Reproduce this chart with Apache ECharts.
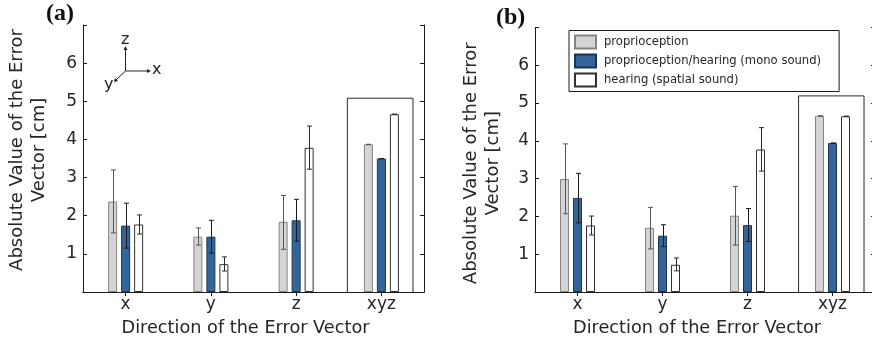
<!DOCTYPE html>
<html><head><meta charset="utf-8">
<script src="https://cdn.jsdelivr.net/npm/echarts@6/dist/echarts.min.js"></script>
<style>html,body{margin:0;padding:0;background:#fff}#c{width:872px;height:344px}</style>
</head><body><div id="c"></div>
<script>
// ---- data ----
const categories = ['x', 'y', 'z', 'xyz'];
const seriesNames = ['proprioception', 'proprioception/hearing (mono sound)', 'hearing (spatial sound)'];
const yTicks = [1, 2, 3, 4, 5, 6];
const panelTitles = ['(a)', '(b)'];
const xAxisName = 'Direction of the Error Vector';
const yAxisName = 'Absolute Value of the Error\nVector [cm]';

// panel (a)
const aProp   = [2.37, 1.45, 1.84, 3.87];
const aPropLo = [1.55, 1.23, 1.12, 3.87];
const aPropHi = [3.20, 1.68, 2.53, 3.87];
const aMono   = [1.74, 1.45, 1.88, 3.50];
const aMonoLo = [1.15, 1.02, 1.33, 3.50];
const aMonoHi = [2.33, 1.88, 2.43, 3.50];
const aSpat   = [1.77, 0.73, 3.78, 4.66];
const aSpatLo = [1.52, 0.55, 3.22, 4.66];
const aSpatHi = [2.02, 0.92, 4.35, 4.66];
const aBoxTop = 5.08;

// panel (b)
const bProp   = [2.99, 1.70, 2.02, 4.66];
const bPropLo = [2.07, 1.14, 1.24, 4.66];
const bPropHi = [3.92, 2.24, 2.79, 4.66];
const bMono   = [2.49, 1.49, 1.77, 3.94];
const bMonoLo = [1.83, 1.20, 1.34, 3.94];
const bMonoHi = [3.14, 1.78, 2.21, 3.94];
const bSpat   = [1.76, 0.72, 3.77, 4.65];
const bSpatLo = [1.51, 0.56, 3.20, 4.65];
const bSpatHi = [2.01, 0.90, 4.35, 4.65];
const bBoxTop = 5.19;

// ---- styles ----
const FONT = 'DejaVu Sans';
const TXT = '#262626';
const BAR_W = 9, BAR_GAP = 4, CAP = 5;
const barStyles = [
  { color: '#d3d4d3', borderColor: '#858585', borderWidth: 1 },
  { color: '#346599', borderColor: '#1d3552', borderWidth: 1 },
  { color: '#ffffff', borderColor: '#303030', borderWidth: 1 }
];
const errColors = ['#555555', '#1a1a1a', '#2a2a2a'];

const grids = [
  { left: 83, top: 25, width: 341, height: 267, outerBoundsMode: 'none', containLabel: false },
  { left: 535, top: 27.5, width: 340, height: 264.5, outerBoundsMode: 'none', containLabel: false }
];

function errRender(offset, color) {
  return function (params, api) {
    const c = api.value(0);
    const lo = api.coord([c, api.value(1)]);
    const hi = api.coord([c, api.value(2)]);
    const x = Math.round(lo[0] + offset) + 0.5;
    const st = { stroke: color, lineWidth: 1 };
    return { type: 'group', children: [
      { type: 'line', shape: { x1: x, y1: hi[1], x2: x, y2: lo[1] }, style: st },
      { type: 'line', shape: { x1: x - CAP / 2, y1: hi[1], x2: x + CAP / 2, y2: hi[1] }, style: st },
      { type: 'line', shape: { x1: x - CAP / 2, y1: lo[1], x2: x + CAP / 2, y2: lo[1] }, style: st }
    ] };
  };
}
function boxRender(params, api) {
  const top = api.coord([api.value(0), api.value(1)]);
  const base = api.coord([api.value(0), 0]);
  const band = api.size([1, 0])[0];
  const hw = band * 0.385;
  const cx = top[0] - 1.2;
  return { type: 'polyline', shape: { points: [[cx - hw, base[1]], [cx - hw, top[1]], [cx + hw, top[1]], [cx + hw, base[1]]] },
    style: { stroke: '#2a2a2a', fill: null, lineWidth: 1 } };
}

const xAxes = [], yAxes = [], series = [];
const panels = [
  { vals: [aProp, aMono, aSpat], lo: [aPropLo, aMonoLo, aSpatLo], hi: [aPropHi, aMonoHi, aSpatHi], box: aBoxTop, nameGap: 33, namePad: [0, 0, 0, 17] },
  { vals: [bProp, bMono, bSpat], lo: [bPropLo, bMonoLo, bSpatLo], hi: [bPropHi, bMonoHi, bSpatHi], box: bBoxTop, nameGap: 31, namePad: [0, 7, 0, 0] }
];
panels.forEach((p, g) => {
  const axisLine = { show: true, lineStyle: { color: '#1a1a1a', width: 1 } };
  const tick = { show: true, inside: true, length: 4, lineStyle: { color: '#1a1a1a' } };
  xAxes.push({ type: 'category', gridIndex: g, data: categories, position: 'bottom',
    axisLine, axisTick: Object.assign({ alignWithLabel: true }, tick),
    axisLabel: { fontFamily: FONT, fontSize: 17, color: TXT, margin: 4 },
    name: xAxisName, nameLocation: 'middle', nameGap: 27,
    nameTextStyle: { fontFamily: FONT, fontSize: 17.7, color: TXT, padding: [0, 16, 0, 0] } });
  xAxes.push({ type: 'category', gridIndex: g, data: categories, position: 'top',
    axisLine, axisTick: Object.assign({ alignWithLabel: true }, tick), axisLabel: { show: false } });
  yAxes.push({ type: 'value', gridIndex: g, min: 0, max: 7, interval: 1, position: 'left',
    axisLine, axisTick: tick, splitLine: { show: false },
    axisLabel: { fontFamily: FONT, fontSize: 17, color: TXT, margin: 6,
      formatter: v => yTicks.indexOf(v) >= 0 ? String(v) : '' },
    name: yAxisName, nameLocation: 'middle', nameGap: p.nameGap, nameRotate: 90,
    nameTextStyle: { fontFamily: FONT, fontSize: 18, color: TXT, lineHeight: 22, padding: p.namePad } });
  yAxes.push({ type: 'value', gridIndex: g, min: 0, max: 7, interval: 1, position: 'right',
    axisLine, axisTick: tick, splitLine: { show: false }, axisLabel: { show: false } });

  series.push({ type: 'custom', name: 'box' + g, xAxisIndex: g * 2, yAxisIndex: g * 2, z: 1,
    data: [[3, p.box]], renderItem: boxRender, silent: true });
  for (let s = 0; s < 3; s++) {
    series.push({ type: 'bar', name: seriesNames[s], xAxisIndex: g * 2, yAxisIndex: g * 2,
      data: p.vals[s], barWidth: BAR_W, barGap: (BAR_GAP / BAR_W * 100) + '%', itemStyle: barStyles[s], z: 2 });
  }
  for (let s = 0; s < 3; s++) {
    series.push({ type: 'custom', name: 'err' + g + s, xAxisIndex: g * 2, yAxisIndex: g * 2, z: 3,
      data: categories.map((c, i) => [i, p.lo[s][i], p.hi[s][i]]),
      renderItem: errRender((s - 1) * (BAR_W + BAR_GAP), errColors[s]), silent: true });
  }
});

const chart = echarts.init(document.getElementById('c'), null, { renderer: 'canvas' });
chart.setOption({
  animation: false,
  backgroundColor: '#ffffff',
  grid: grids,
  xAxis: xAxes,
  yAxis: yAxes,
  legend: {
    data: seriesNames, orient: 'vertical', left: 569, top: 30.5,
    itemWidth: 21, itemHeight: 13, itemGap: 4, icon: 'rect',
    padding: [4, 18, 4, 5], borderColor: '#1a1a1a', borderWidth: 1, backgroundColor: '#fff',
    textStyle: { fontFamily: FONT, fontSize: 11.6, color: TXT, padding: [0, 0, 0, 3] },
    selectedMode: false
  },
  graphic: [
    { type: 'text', left: 46, top: 2, style: { text: panelTitles[0], font: 'bold 24px "Liberation Serif"', fill: '#111' } },
    { type: 'text', left: 496, top: 6, style: { text: panelTitles[1], font: 'bold 24px "Liberation Serif"', fill: '#111' } },
    { type: 'group', left: 104, top: 32, children: [
      { type: 'line', shape: { x1: 21.5, y1: 37, x2: 21.5, y2: 15 }, style: { stroke: '#222', lineWidth: 1 } },
      { type: 'polygon', shape: { points: [[19.5, 16], [23.5, 16], [21.5, 12]] }, style: { fill: '#222' } },
      { type: 'line', shape: { x1: 21.5, y1: 37, x2: 44, y2: 37 }, style: { stroke: '#222', lineWidth: 1 } },
      { type: 'polygon', shape: { points: [[43, 35], [43, 39], [47, 37]] }, style: { fill: '#222' } },
      { type: 'line', shape: { x1: 21.5, y1: 37, x2: 12, y2: 46 }, style: { stroke: '#222', lineWidth: 1 } },
      { type: 'polygon', shape: { points: [[10, 48], [11, 44], [14, 47]] }, style: { fill: '#222' } },
      { type: 'text', x: 17, y: -2, style: { text: 'z', font: '16px "DejaVu Sans"', fill: '#222' } },
      { type: 'text', x: 48, y: 28, style: { text: 'x', font: '16px "DejaVu Sans"', fill: '#222' } },
      { type: 'text', x: 0, y: 43, style: { text: 'y', font: '16px "DejaVu Sans"', fill: '#222' } }
    ] }
  ],
  series: series
});
</script>
</body></html>
